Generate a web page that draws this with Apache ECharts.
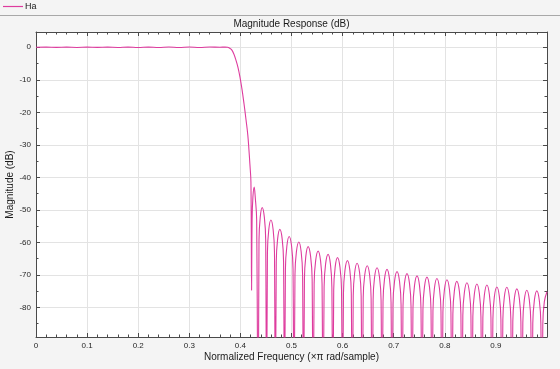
<!DOCTYPE html>
<html><head><meta charset="utf-8">
<script src="https://cdn.jsdelivr.net/npm/echarts@6/dist/echarts.min.js"></script>
<style>html,body{margin:0;padding:0;background:#f4f4f4}#c{width:560px;height:369px}</style>
</head><body><div id="c"></div><script>
// Passband (normalized frequency, dB)
const passFreq = [0,0.02,0.04,0.06,0.08,0.10,0.12,0.14,0.16,0.18,0.20,0.22,0.24,0.26,0.28,0.30,0.32,0.34,0.36];
const passDb   = [0,0.06,-0.04,0.05,-0.05,0.05,-0.04,0.05,-0.05,0.06,-0.05,0.06,-0.06,0.07,-0.07,0.08,-0.08,0.1,0.02];
// Transition band
const transFreq = [0.370,0.375,0.379,0.383,0.387,0.391,0.395,0.399,0.403,0.407,0.411,0.4145,0.4167,0.4186,0.4206,0.4219];
const transDb   = [0.05,0,-0.3,-0.8,-2.0,-3.8,-6.0,-9.0,-12.8,-17.3,-22.3,-27,-31.5,-36,-41.5,-74.7];
// Stopband lobes (nulls go far below the axis)
const stopFreq = [
  0.4229,0.4245,0.4270,0.4290,0.4318,0.4349,
  0.4364,0.4388,0.4426,0.4469,0.4495,0.4512,
  0.4529,0.4555,0.4597,0.4641,0.4667,0.4684,
  0.4702,0.4728,0.4772,0.4818,0.4845,0.4863,
  0.4881,0.4909,0.4954,0.5002,0.5030,0.5049,
  0.5068,0.5096,0.5144,0.5189,0.5217,0.5235,
  0.5253,0.5280,0.5325,0.5374,0.5404,0.5423,
  0.5443,0.5472,0.5521,0.5569,0.5598,0.5618,
  0.5638,0.5667,0.5716,0.5762,0.5790,0.5808,
  0.5826,0.5854,0.5900,0.5949,0.5979,0.5998,
  0.6017,0.6046,0.6095,0.6142,0.6170,0.6189,
  0.6208,0.6236,0.6283,0.6333,0.6363,0.6383,
  0.6403,0.6432,0.6482,0.6530,0.6558,0.6578,
  0.6597,0.6625,0.6674,0.6723,0.6753,0.6772,
  0.6791,0.6820,0.6869,0.6918,0.6948,0.6967,
  0.6986,0.7016,0.7065,0.7114,0.7144,0.7163,
  0.7182,0.7211,0.7260,0.7309,0.7339,0.7358,
  0.7377,0.7407,0.7456,0.7505,0.7534,0.7553,
  0.7572,0.7602,0.7651,0.7700,0.7730,0.7749,
  0.7768,0.7797,0.7846,0.7895,0.7925,0.7944,
  0.7963,0.7993,0.8042,0.8091,0.8120,0.8139,
  0.8158,0.8187,0.8235,0.8285,0.8315,0.8334,
  0.8353,0.8383,0.8433,0.8482,0.8511,0.8530,
  0.8549,0.8579,0.8628,0.8677,0.8707,0.8726,
  0.8745,0.8775,0.8824,0.8873,0.8903,0.8922,
  0.8941,0.8970,0.9019,0.9068,0.9098,0.9117,
  0.9136,0.9165,0.9214,0.9263,0.9293,0.9312,
  0.9331,0.9361,0.9410,0.9459,0.9489,0.9508,
  0.9527,0.9556,0.9605,0.9654,0.9684,0.9703,
  0.9722,0.9752,0.9801,0.9850,0.9880,0.9899,
  0.9918,0.9948,1.0
];
const stopDb = [
  -53,-46,-43,-46,-53,-140,
  -59.3,-52.3,-49.3,-52.3,-59.3,-140,
  -63.1,-56.1,-53.1,-56.1,-63.1,-140,
  -66,-59,-56,-59,-66,-140,
  -68.2,-61.2,-58.2,-61.2,-68.2,-140,
  -69.9,-62.9,-59.9,-62.9,-69.9,-140,
  -71.3,-64.3,-61.3,-64.3,-71.3,-140,
  -72.7,-65.7,-62.7,-65.7,-72.7,-140,
  -73.7,-66.7,-63.7,-66.7,-73.7,-140,
  -74.7,-67.7,-64.7,-67.7,-74.7,-140,
  -75.6,-68.6,-65.6,-68.6,-75.6,-140,
  -76.4,-69.4,-66.4,-69.4,-76.4,-140,
  -77.2,-70.2,-67.2,-70.2,-77.2,-140,
  -77.8,-70.8,-67.8,-70.8,-77.8,-140,
  -78.3,-71.3,-68.3,-71.3,-78.3,-140,
  -79,-72,-69,-72,-79,-140,
  -79.6,-72.6,-69.6,-72.6,-79.6,-140,
  -80.3,-73.3,-70.3,-73.3,-80.3,-140,
  -80.7,-73.7,-70.7,-73.7,-80.7,-140,
  -81.1,-74.1,-71.1,-74.1,-81.1,-140,
  -81.5,-74.5,-71.5,-74.5,-81.5,-140,
  -82,-75,-72,-75,-82,-140,
  -82.4,-75.4,-72.4,-75.4,-82.4,-140,
  -82.8,-75.8,-72.8,-75.8,-82.8,-140,
  -83.1,-76.1,-73.1,-76.1,-83.1,-140,
  -83.7,-76.7,-73.7,-76.7,-83.7,-140,
  -83.8,-76.8,-73.8,-76.8,-83.8,-140,
  -84.3,-77.3,-74.3,-77.3,-84.3,-140,
  -84.7,-77.7,-74.7,-77.7,-84.7,-140,
  -84.9,-77.9,-74.9,-77.9,-84.9,-140,
  -85.2,-78.2,-75.2
];
const yMajor = [-80,-70,-60,-50,-40,-30,-20,-10,0];
const yMinor = [-85,-75,-65,-55,-45,-35,-25,-15,-5];
const seriesName = 'Ha';
const titleText = 'Magnitude Response (dB)';
const xName = 'Normalized Frequency (\u00d7\u03c0 rad/sample)';
const yName = 'Magnitude (dB)';

const freq = passFreq.concat(transFreq, stopFreq);
const mag = passDb.concat(transDb, stopDb);
const data = freq.map((f, i) => [f, mag[i]]);

const FONT = "'Liberation Sans', Arial, Helvetica, sans-serif";
const AX = '#4a4a4a';
const LINE = '#de3c9e';

const chart = echarts.init(document.getElementById('c'), null, {renderer: 'canvas'});
const xBase = {
  type: 'value', min: 0, max: 1, interval: 0.1,
  axisLine: {show: true, onZero: false, lineStyle: {color: AX, width: 1}},
  axisTick: {show: true, inside: true, length: 4, lineStyle: {color: AX}},
  minorTick: {show: true, splitNumber: 5, length: 2.5, lineStyle: {color: AX}},
  splitLine: {show: false}, axisLabel: {show: false}
};
const yBase = {
  type: 'value', min: -89.1, max: 4.7,
  axisLine: {show: true, onZero: false, lineStyle: {color: AX, width: 1}},
  axisTick: {show: true, inside: true, length: 4, customValues: yMajor, lineStyle: {color: AX}},
  splitLine: {show: false}, axisLabel: {show: false}
};
const yMinorAxis = (pos) => ({
  type: 'value', min: -89.1, max: 4.7, position: pos,
  axisLine: {show: false, onZero: false},
  axisTick: {show: true, inside: true, length: 2.5, customValues: yMinor, lineStyle: {color: AX}},
  splitLine: {show: false}, axisLabel: {show: false}
});

chart.setOption({
  animation: false,
  backgroundColor: '#f4f4f4',
  title: {
    text: titleText, left: 291.5, top: 19, textAlign: 'center', padding: 0,
    textStyle: {fontFamily: FONT, fontSize: 10, fontWeight: 'normal', color: '#1a1a1a'}
  },
  legend: {
    left: 3, top: 2, padding: 0, itemWidth: 20, itemHeight: 1.2, icon: 'rect', itemGap: 4,
    textStyle: {fontFamily: FONT, fontSize: 9, color: '#1a1a1a', padding: [0,0,0,-3]},
    data: [{name: seriesName, itemStyle: {color: LINE}}]
  },
  graphic: [{
    type: 'line', shape: {x1: 0, y1: 15.5, x2: 560, y2: 15.5},
    style: {stroke: '#a8a8a8', lineWidth: 1}, z: 10
  }],
  grid: {left: 36, top: 32, right: 13, bottom: 32, show: true, backgroundColor: '#ffffff', borderWidth: 0,
    containLabel: false, outerBoundsMode: 'none'},
  xAxis: [
    Object.assign({}, xBase, {
      position: 'bottom',
      splitLine: {show: true, lineStyle: {color: '#e3e3e3', width: 1}},
      axisLabel: {show: true, showMaxLabel: false, margin: 5, fontFamily: FONT, fontSize: 8, color: '#262626'},
      name: xName, nameLocation: 'middle', nameGap: 15, nameMoveOverlap: false,
      nameTextStyle: {fontFamily: FONT, fontSize: 10, color: '#1a1a1a'}
    }),
    Object.assign({}, xBase, {position: 'top'})
  ],
  yAxis: [
    Object.assign({}, yBase, {
      position: 'left',
      splitLine: {show: true, lineStyle: {color: '#e3e3e3', width: 1}},
      axisLabel: {show: true, customValues: yMajor, margin: 5, fontFamily: FONT, fontSize: 8, color: '#262626'},
      name: yName, nameLocation: 'middle', nameGap: 21, nameMoveOverlap: false,
      nameTextStyle: {fontFamily: FONT, fontSize: 10, color: '#1a1a1a'}
    }),
    Object.assign({}, yBase, {position: 'right'}),
    yMinorAxis('left'),
    yMinorAxis('right')
  ],
  series: [{
    name: seriesName, type: 'line', data: data, xAxisIndex: 0, yAxisIndex: 0,
    showSymbol: false, symbol: 'none', clip: true, smooth: 0.4,
    lineStyle: {color: LINE, width: 1.1}, itemStyle: {color: LINE}
  }]
});
</script></body></html>
